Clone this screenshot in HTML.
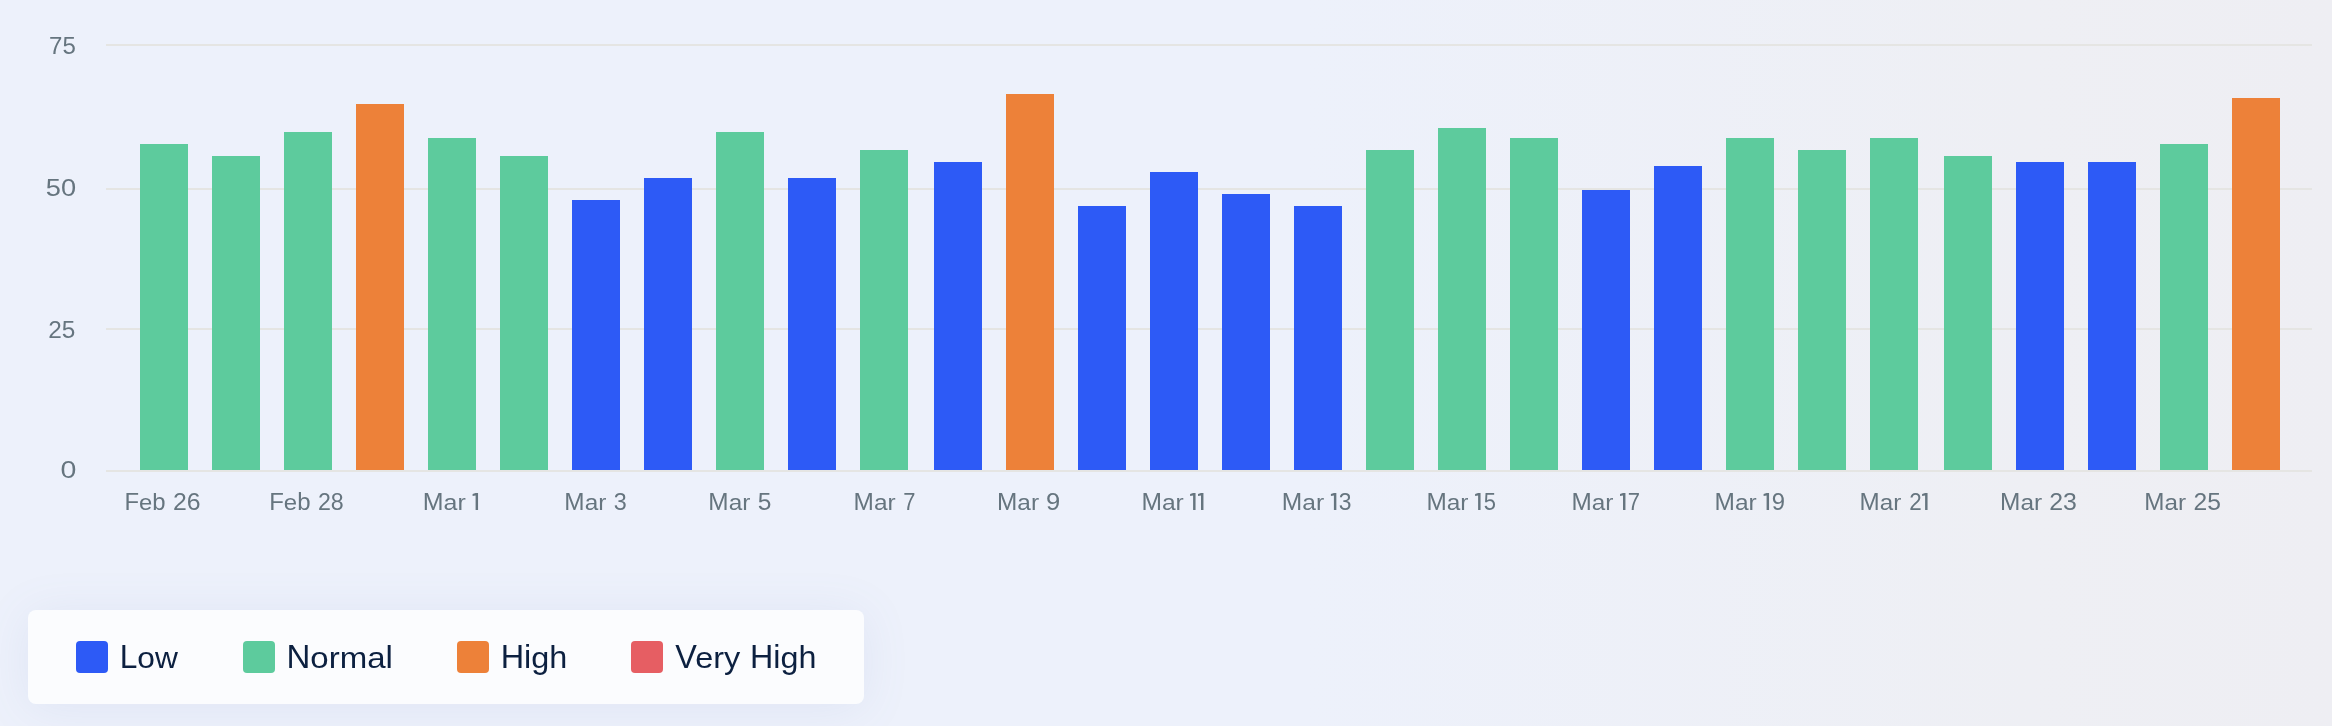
<!DOCTYPE html>
<html><head><meta charset="utf-8"><title>chart</title>
<style>
html,body{margin:0;padding:0;background:#edf1fb;}
body{width:2332px;height:726px;overflow:hidden;font-family:"Liberation Sans",sans-serif;}
#root{position:relative;width:2332px;height:726px;overflow:hidden;
 background:linear-gradient(to right,#edf1fb 0%,#edf1fb 56%,#eeeff4 87%,#eeeef3 100%);}
svg{position:absolute;left:0;top:0;will-change:transform;}
text{font-family:"Liberation Sans",sans-serif;}
.ax{font-size:24px;fill:#66757f;}
.one{fill:#66757f;}
.lg{font-size:32px;fill:#0c2040;}
.legend{position:absolute;left:28px;top:610px;width:836px;height:94px;border-radius:8px;
 background:#fbfcfe;box-shadow:0 4px 48px rgba(110,128,190,0.10);}
.sw{position:absolute;top:31px;width:32px;height:32px;border-radius:4px;}
</style></head><body><div id="root">
<div class="legend">
<div class="sw" style="left:48px;background:#2d5af6"></div>
<div class="sw" style="left:215px;background:#5dcb9d"></div>
<div class="sw" style="left:429px;background:#ed8139"></div>
<div class="sw" style="left:603px;background:#e65e63"></div>
</div>
<svg width="2332" height="726" viewBox="0 0 2332 726">
<defs><clipPath id="ca"><rect x="-10" y="-60" width="400" height="60"/></clipPath><clipPath id="cb"><rect x="-10" y="0" width="400" height="30"/></clipPath></defs>
<rect x="106" y="44" width="2206" height="2" fill="#e5e5e3"/>
<rect x="106" y="188" width="2206" height="2" fill="#e5e5e3"/>
<rect x="106" y="328" width="2206" height="2" fill="#e5e5e3"/>
<rect x="106" y="470" width="2206" height="2" fill="#e5e5e3"/>
<rect x="140" y="144" width="48" height="326" fill="#5dcb9d"/>
<rect x="212" y="156" width="48" height="314" fill="#5dcb9d"/>
<rect x="284" y="132" width="48" height="338" fill="#5dcb9d"/>
<rect x="356" y="104" width="48" height="366" fill="#ed8139"/>
<rect x="428" y="138" width="48" height="332" fill="#5dcb9d"/>
<rect x="500" y="156" width="48" height="314" fill="#5dcb9d"/>
<rect x="572" y="200" width="48" height="270" fill="#2d5af6"/>
<rect x="644" y="178" width="48" height="292" fill="#2d5af6"/>
<rect x="716" y="132" width="48" height="338" fill="#5dcb9d"/>
<rect x="788" y="178" width="48" height="292" fill="#2d5af6"/>
<rect x="860" y="150" width="48" height="320" fill="#5dcb9d"/>
<rect x="934" y="162" width="48" height="308" fill="#2d5af6"/>
<rect x="1006" y="94" width="48" height="376" fill="#ed8139"/>
<rect x="1078" y="206" width="48" height="264" fill="#2d5af6"/>
<rect x="1150" y="172" width="48" height="298" fill="#2d5af6"/>
<rect x="1222" y="194" width="48" height="276" fill="#2d5af6"/>
<rect x="1294" y="206" width="48" height="264" fill="#2d5af6"/>
<rect x="1366" y="150" width="48" height="320" fill="#5dcb9d"/>
<rect x="1438" y="128" width="48" height="342" fill="#5dcb9d"/>
<rect x="1510" y="138" width="48" height="332" fill="#5dcb9d"/>
<rect x="1582" y="190" width="48" height="280" fill="#2d5af6"/>
<rect x="1654" y="166" width="48" height="304" fill="#2d5af6"/>
<rect x="1726" y="138" width="48" height="332" fill="#5dcb9d"/>
<rect x="1798" y="150" width="48" height="320" fill="#5dcb9d"/>
<rect x="1870" y="138" width="48" height="332" fill="#5dcb9d"/>
<rect x="1944" y="156" width="48" height="314" fill="#5dcb9d"/>
<rect x="2016" y="162" width="48" height="308" fill="#2d5af6"/>
<rect x="2088" y="162" width="48" height="308" fill="#2d5af6"/>
<rect x="2160" y="144" width="48" height="326" fill="#5dcb9d"/>
<rect x="2232" y="98" width="48" height="372" fill="#ed8139"/>
<g class="ax" transform="translate(49.09,54.20) scale(1.0018,1.0300)"><text x="0.00">75</text></g>
<g class="ax" transform="translate(45.84,196.20) scale(1.1348,1.0300)"><text x="0.00">50</text></g>
<g class="ax" transform="translate(48.25,337.90) scale(1.0163,1.0300)"><text x="0.00">25</text></g>
<g class="ax" transform="translate(60.43,477.90) scale(1.1879,1.0300)"><text x="0.00">0</text></g>
<g class="ax" transform="translate(124.51,510.20) scale(0.9950,1.0300)"><text x="0.00">F</text><text transform="translate(14.66,0) scale(1,0.91)">e</text><text transform="translate(28.00,0) scale(1,0.965)">b</text></g>
<g class="ax" transform="translate(173.04,510.20) scale(1.0334,1.0300)"><text x="0.00">26</text></g>
<g class="ax" transform="translate(269.19,510.20) scale(1.0000,1.0300)"><text x="0.00">F</text><text transform="translate(14.66,0) scale(1,0.91)">e</text><text transform="translate(28.00,0) scale(1,0.965)">b</text></g>
<g class="ax" transform="translate(317.91,510.20) scale(0.9663,1.0300)"><text x="0.00">28</text></g>
<g class="ax" transform="translate(422.81,510.20) scale(1.0399,1.0300)"><text x="0.00">M</text><text transform="translate(19.98,0) scale(1,0.91)">ar</text></g>
<g class="ax" transform="translate(564.34,510.20) scale(1.0155,1.0300)"><text x="0.00">M</text><text transform="translate(19.98,0) scale(1,0.91)">ar</text></g>
<g class="ax" transform="translate(613.67,510.20) scale(0.9739,1.0300)"><text x="0.00">3</text></g>
<g class="ax" transform="translate(708.34,510.20) scale(1.0155,1.0300)"><text x="0.00">M</text><text transform="translate(19.98,0) scale(1,0.91)">ar</text></g>
<g class="ax" transform="translate(757.63,510.20) scale(1.0224,1.0300)"><text x="0.00">5</text></g>
<g class="ax" transform="translate(853.60,510.20) scale(1.0177,1.0300)"><text x="0.00">M</text><text transform="translate(19.98,0) scale(1,0.91)">ar</text></g>
<g class="ax" transform="translate(903.13,510.20) scale(0.9137,1.0300)"><text x="0.00">7</text></g>
<g class="ax" transform="translate(997.00,510.20) scale(1.0169,1.0300)"><text x="0.00">M</text><text transform="translate(19.98,0) scale(1,0.91)">ar</text></g>
<g class="ax" transform="translate(1046.08,510.20) scale(1.0651,1.0300)"><text x="0.00">9</text></g>
<g class="ax" transform="translate(1141.41,510.20) scale(1.0262,1.0300)"><text x="0.00">M</text><text transform="translate(19.98,0) scale(1,0.91)">ar</text></g>
<g class="ax" transform="translate(1281.86,510.20) scale(1.0232,1.0300)"><text x="0.00">M</text><text transform="translate(19.98,0) scale(1,0.91)">ar</text></g>
<g class="ax" transform="translate(1338.75,510.20) scale(0.9548,1.0300)"><text x="0.00">3</text></g>
<g class="ax" transform="translate(1426.42,510.20) scale(1.0166,1.0300)"><text x="0.00">M</text><text transform="translate(19.98,0) scale(1,0.91)">ar</text></g>
<g class="ax" transform="translate(1483.72,510.20) scale(0.9148,1.0300)"><text x="0.00">5</text></g>
<g class="ax" transform="translate(1571.38,510.20) scale(1.0145,1.0300)"><text x="0.00">M</text><text transform="translate(19.98,0) scale(1,0.91)">ar</text></g>
<g class="ax" transform="translate(1627.75,510.20) scale(0.9181,1.0300)"><text x="0.00">7</text></g>
<g class="ax" transform="translate(1714.54,510.20) scale(1.0207,1.0300)"><text x="0.00">M</text><text transform="translate(19.98,0) scale(1,0.91)">ar</text></g>
<g class="ax" transform="translate(1771.75,510.20) scale(0.9928,1.0300)"><text x="0.00">9</text></g>
<g class="ax" transform="translate(1859.53,510.20) scale(1.0084,1.0300)"><text x="0.00">M</text><text transform="translate(19.98,0) scale(1,0.91)">ar</text></g>
<g class="ax" transform="translate(1909.18,510.20) scale(0.9349,1.0300)"><text x="0.00">2</text></g>
<g class="ax" transform="translate(2000.09,510.20) scale(1.0180,1.0300)"><text x="0.00">M</text><text transform="translate(19.98,0) scale(1,0.91)">ar</text></g>
<g class="ax" transform="translate(2049.22,510.20) scale(1.0359,1.0300)"><text x="0.00">23</text></g>
<g class="ax" transform="translate(2144.31,510.20) scale(1.0102,1.0300)"><text x="0.00">M</text><text transform="translate(19.98,0) scale(1,0.91)">ar</text></g>
<g class="ax" transform="translate(2193.42,510.20) scale(1.0284,1.0300)"><text x="0.00">25</text></g>
<g class="lg" transform="translate(119.64,668.00) scale(0.9917,1.0300)"><text x="0.00">L</text><text transform="translate(17.80,0) scale(1,0.91)">ow</text></g>
<g class="lg" transform="translate(286.47,668.00) scale(1.0320,1.0300)"><text x="0.00">N</text><text transform="translate(23.11,0) scale(1,0.91)">orma</text><text transform="translate(96.02,0) scale(1,0.965)">l</text></g>
<g class="lg" transform="translate(500.69,668.00) scale(1.0134,1.0300)"><text x="0.00">Hi</text><text clip-path="url(#ca)" transform="translate(30.22,0) scale(1,0.91)">g</text><text clip-path="url(#cb)" transform="translate(30.22,0)">g</text><text transform="translate(48.02,0) scale(1,0.965)">h</text></g>
<g class="lg" transform="translate(675.37,668.00) scale(1.0148,1.0300)"><text x="0.00">V</text><text clip-path="url(#ca)" transform="translate(19.58,0) scale(1,0.91)">ery</text><text clip-path="url(#cb)" transform="translate(19.58,0)">ery</text></g>
<g class="lg" transform="translate(749.97,668.00) scale(1.0090,1.0300)"><text x="0.00">Hi</text><text clip-path="url(#ca)" transform="translate(30.22,0) scale(1,0.91)">g</text><text clip-path="url(#cb)" transform="translate(30.22,0)">g</text><text transform="translate(48.02,0) scale(1,0.965)">h</text></g>
<path class="one" transform="translate(472.6,509.9)" d="M0,-15.8L3,-16.9L5.45,-16.9L5.45,0L3,0L3,-14.4L0,-14Z"/>
<path class="one" transform="translate(1190.1,509.9)" d="M0,-15.8L3,-16.9L5.45,-16.9L5.45,0L3,0L3,-14.4L0,-14Z"/>
<path class="one" transform="translate(1198.0,509.9)" d="M0,-15.8L3,-16.9L5.45,-16.9L5.45,0L3,0L3,-14.4L0,-14Z"/>
<path class="one" transform="translate(1330.9,509.9)" d="M0,-15.8L3,-16.9L5.45,-16.9L5.45,0L3,0L3,-14.4L0,-14Z"/>
<path class="one" transform="translate(1475.1,509.9)" d="M0,-15.8L3,-16.9L5.45,-16.9L5.45,0L3,0L3,-14.4L0,-14Z"/>
<path class="one" transform="translate(1620.0,509.9)" d="M0,-15.8L3,-16.9L5.45,-16.9L5.45,0L3,0L3,-14.4L0,-14Z"/>
<path class="one" transform="translate(1763.6,509.9)" d="M0,-15.8L3,-16.9L5.45,-16.9L5.45,0L3,0L3,-14.4L0,-14Z"/>
<path class="one" transform="translate(1922.1,509.9)" d="M0,-15.8L3,-16.9L5.45,-16.9L5.45,0L3,0L3,-14.4L0,-14Z"/>
</svg>
</div></body></html>
